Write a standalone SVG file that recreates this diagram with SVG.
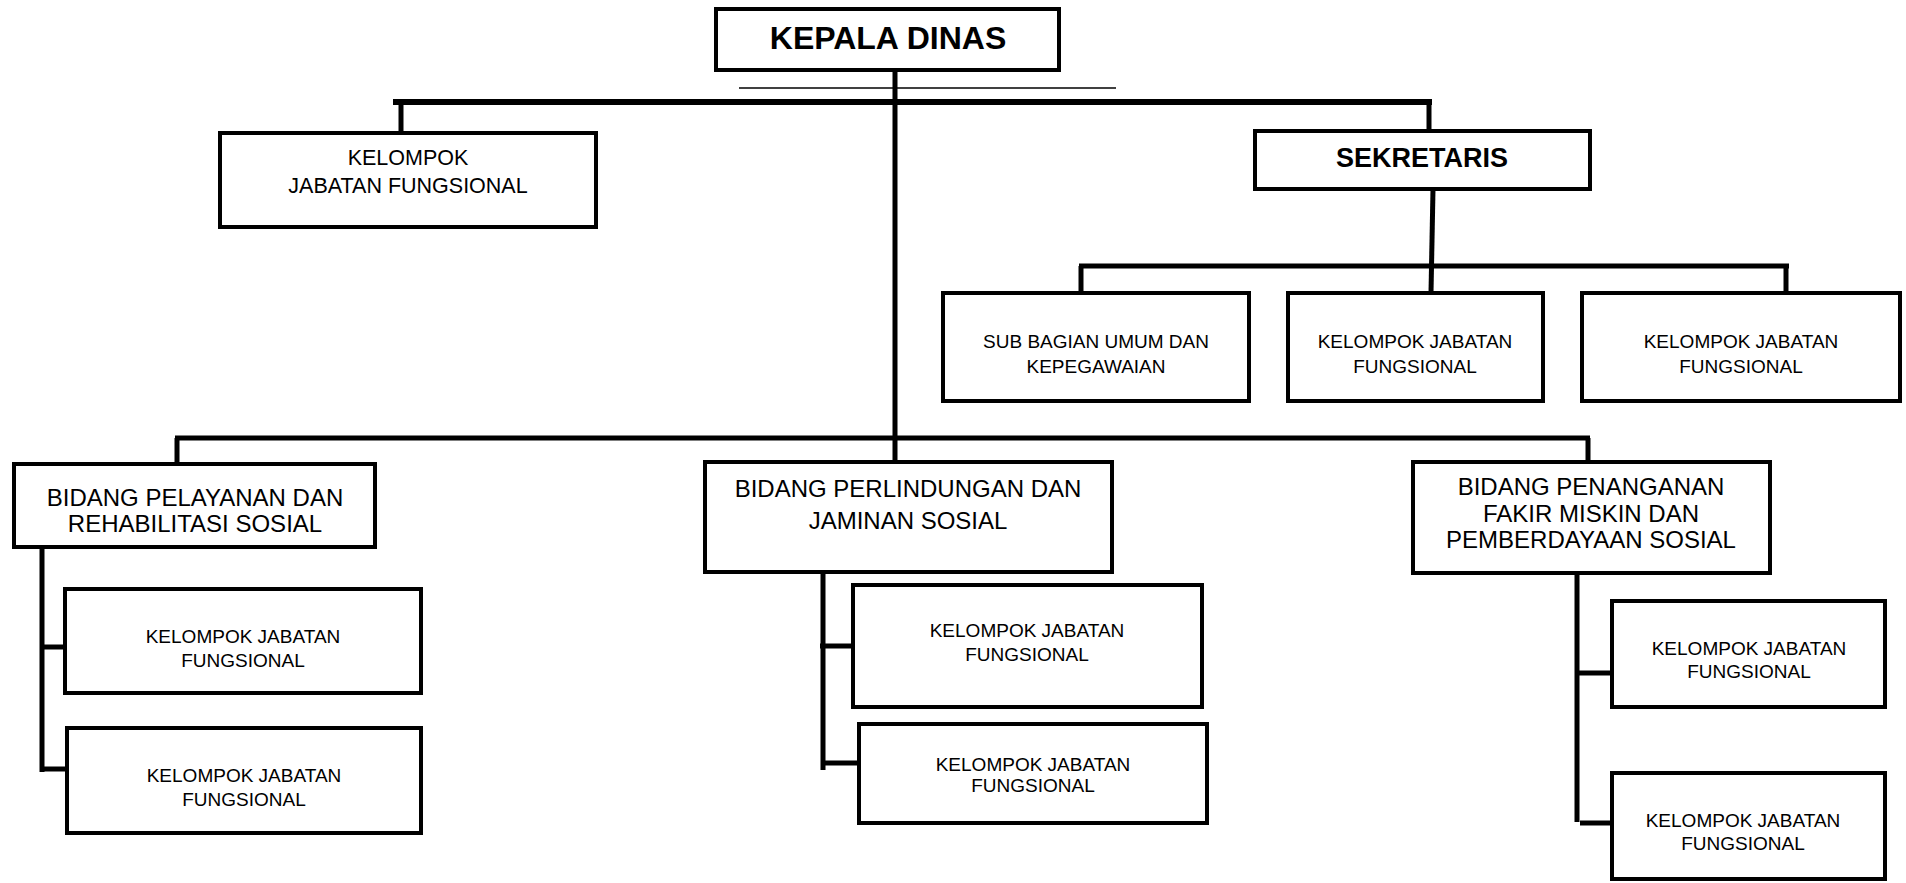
<svg xmlns="http://www.w3.org/2000/svg" width="1906" height="883" viewBox="0 0 1906 883">
<style>
.box{fill:#fff;stroke:#000;stroke-width:4}
.t{font-family:"Liberation Sans",Arial,sans-serif;fill:#000;text-anchor:middle}
.s18{font-size:19px}
.s20{font-size:21.5px}
.s22{font-size:24px}
.b{font-weight:bold}
.c{stroke:#000;stroke-width:5;fill:none}
</style>
<rect width="1906" height="883" fill="#fff"/>
<g id="connectors">
<line class="c" x1="895" y1="70" x2="895" y2="462"/>
<line class="c" x1="393" y1="102" x2="1432" y2="102" style="stroke-width:6"/>
<line class="c" x1="401" y1="102" x2="401" y2="132"/>
<line class="c" x1="1429" y1="102" x2="1429" y2="131"/>
<line class="c" x1="1433" y1="189" x2="1431" y2="293"/>
<line class="c" x1="1079" y1="266" x2="1789" y2="266"/>
<line class="c" x1="1081" y1="266" x2="1081" y2="293"/>
<line class="c" x1="1786" y1="266" x2="1786" y2="293"/>
<line class="c" x1="175" y1="438" x2="1590" y2="438"/>
<line class="c" x1="177" y1="438" x2="177" y2="464"/>
<line class="c" x1="1588" y1="438" x2="1588" y2="462"/>
<line class="c" x1="42" y1="547" x2="42" y2="772"/>
<line class="c" x1="40" y1="647" x2="65" y2="647"/>
<line class="c" x1="40" y1="769" x2="67" y2="769"/>
<line class="c" x1="823" y1="572" x2="823" y2="770"/>
<line class="c" x1="820" y1="646" x2="853" y2="646"/>
<line class="c" x1="821" y1="763" x2="859" y2="763"/>
<line class="c" x1="1577" y1="575" x2="1577" y2="822"/>
<line class="c" x1="1577" y1="673" x2="1612" y2="673"/>
<line class="c" x1="1580" y1="823" x2="1612" y2="823"/>
<line x1="739" y1="88" x2="1116" y2="88" stroke="#000" stroke-width="1.5"/>
</g>
<g id="kepala">
<rect class="box" x="716" y="9" width="343" height="61"/>
<text class="t b" x="888" y="49" font-size="32">KEPALA DINAS</text>
</g>
<g id="kjf-top">
<rect class="box" x="220" y="133" width="376" height="94"/>
<text class="t s20" x="408" y="165">KELOMPOK</text>
<text class="t s20" x="408" y="193">JABATAN FUNGSIONAL</text>
</g>
<g id="sekretaris">
<rect class="box" x="1255" y="131" width="335" height="58"/>
<text class="t b" x="1422" y="167" font-size="27">SEKRETARIS</text>
</g>
<g id="subbag">
<rect class="box" x="943" y="293" width="306" height="108"/>
<text class="t s18" x="1096" y="348">SUB BAGIAN UMUM DAN</text>
<text class="t s18" x="1096" y="373">KEPEGAWAIAN</text>
</g>
<g id="kjf-sek-1">
<rect class="box" x="1288" y="293" width="255" height="108"/>
<text class="t s18" x="1415" y="348">KELOMPOK JABATAN</text>
<text class="t s18" x="1415" y="373">FUNGSIONAL</text>
</g>
<g id="kjf-sek-2">
<rect class="box" x="1582" y="293" width="318" height="108"/>
<text class="t s18" x="1741" y="348">KELOMPOK JABATAN</text>
<text class="t s18" x="1741" y="373">FUNGSIONAL</text>
</g>
<g id="bidang-1">
<rect class="box" x="14" y="464" width="361" height="83"/>
<text class="t s22" x="195" y="506">BIDANG PELAYANAN DAN</text>
<text class="t s22" x="195" y="532">REHABILITASI SOSIAL</text>
</g>
<g id="bidang-2">
<rect class="box" x="705" y="462" width="407" height="110"/>
<text class="t s22" x="908" y="497">BIDANG PERLINDUNGAN DAN</text>
<text class="t s22" x="908" y="529">JAMINAN SOSIAL</text>
</g>
<g id="bidang-3">
<rect class="box" x="1413" y="462" width="357" height="111"/>
<text class="t s22" x="1591" y="495">BIDANG PENANGANAN</text>
<text class="t s22" x="1591" y="522">FAKIR MISKIN DAN</text>
<text class="t s22" x="1591" y="548">PEMBERDAYAAN SOSIAL</text>
</g>
<g id="kjf-b1-1">
<rect class="box" x="65" y="589" width="356" height="104"/>
<text class="t s18" x="243" y="643">KELOMPOK JABATAN</text>
<text class="t s18" x="243" y="667">FUNGSIONAL</text>
</g>
<g id="kjf-b1-2">
<rect class="box" x="67" y="728" width="354" height="105"/>
<text class="t s18" x="244" y="782">KELOMPOK JABATAN</text>
<text class="t s18" x="244" y="806">FUNGSIONAL</text>
</g>
<g id="kjf-b2-1">
<rect class="box" x="853" y="585" width="349" height="122"/>
<text class="t s18" x="1027" y="637">KELOMPOK JABATAN</text>
<text class="t s18" x="1027" y="661">FUNGSIONAL</text>
</g>
<g id="kjf-b2-2">
<rect class="box" x="859" y="724" width="348" height="99"/>
<text class="t s18" x="1033" y="771">KELOMPOK JABATAN</text>
<text class="t s18" x="1033" y="792">FUNGSIONAL</text>
</g>
<g id="kjf-b3-1">
<rect class="box" x="1612" y="601" width="273" height="106"/>
<text class="t s18" x="1749" y="655">KELOMPOK JABATAN</text>
<text class="t s18" x="1749" y="678">FUNGSIONAL</text>
</g>
<g id="kjf-b3-2">
<rect class="box" x="1612" y="773" width="273" height="106"/>
<text class="t s18" x="1743" y="827">KELOMPOK JABATAN</text>
<text class="t s18" x="1743" y="850">FUNGSIONAL</text>
</g>
</svg>
